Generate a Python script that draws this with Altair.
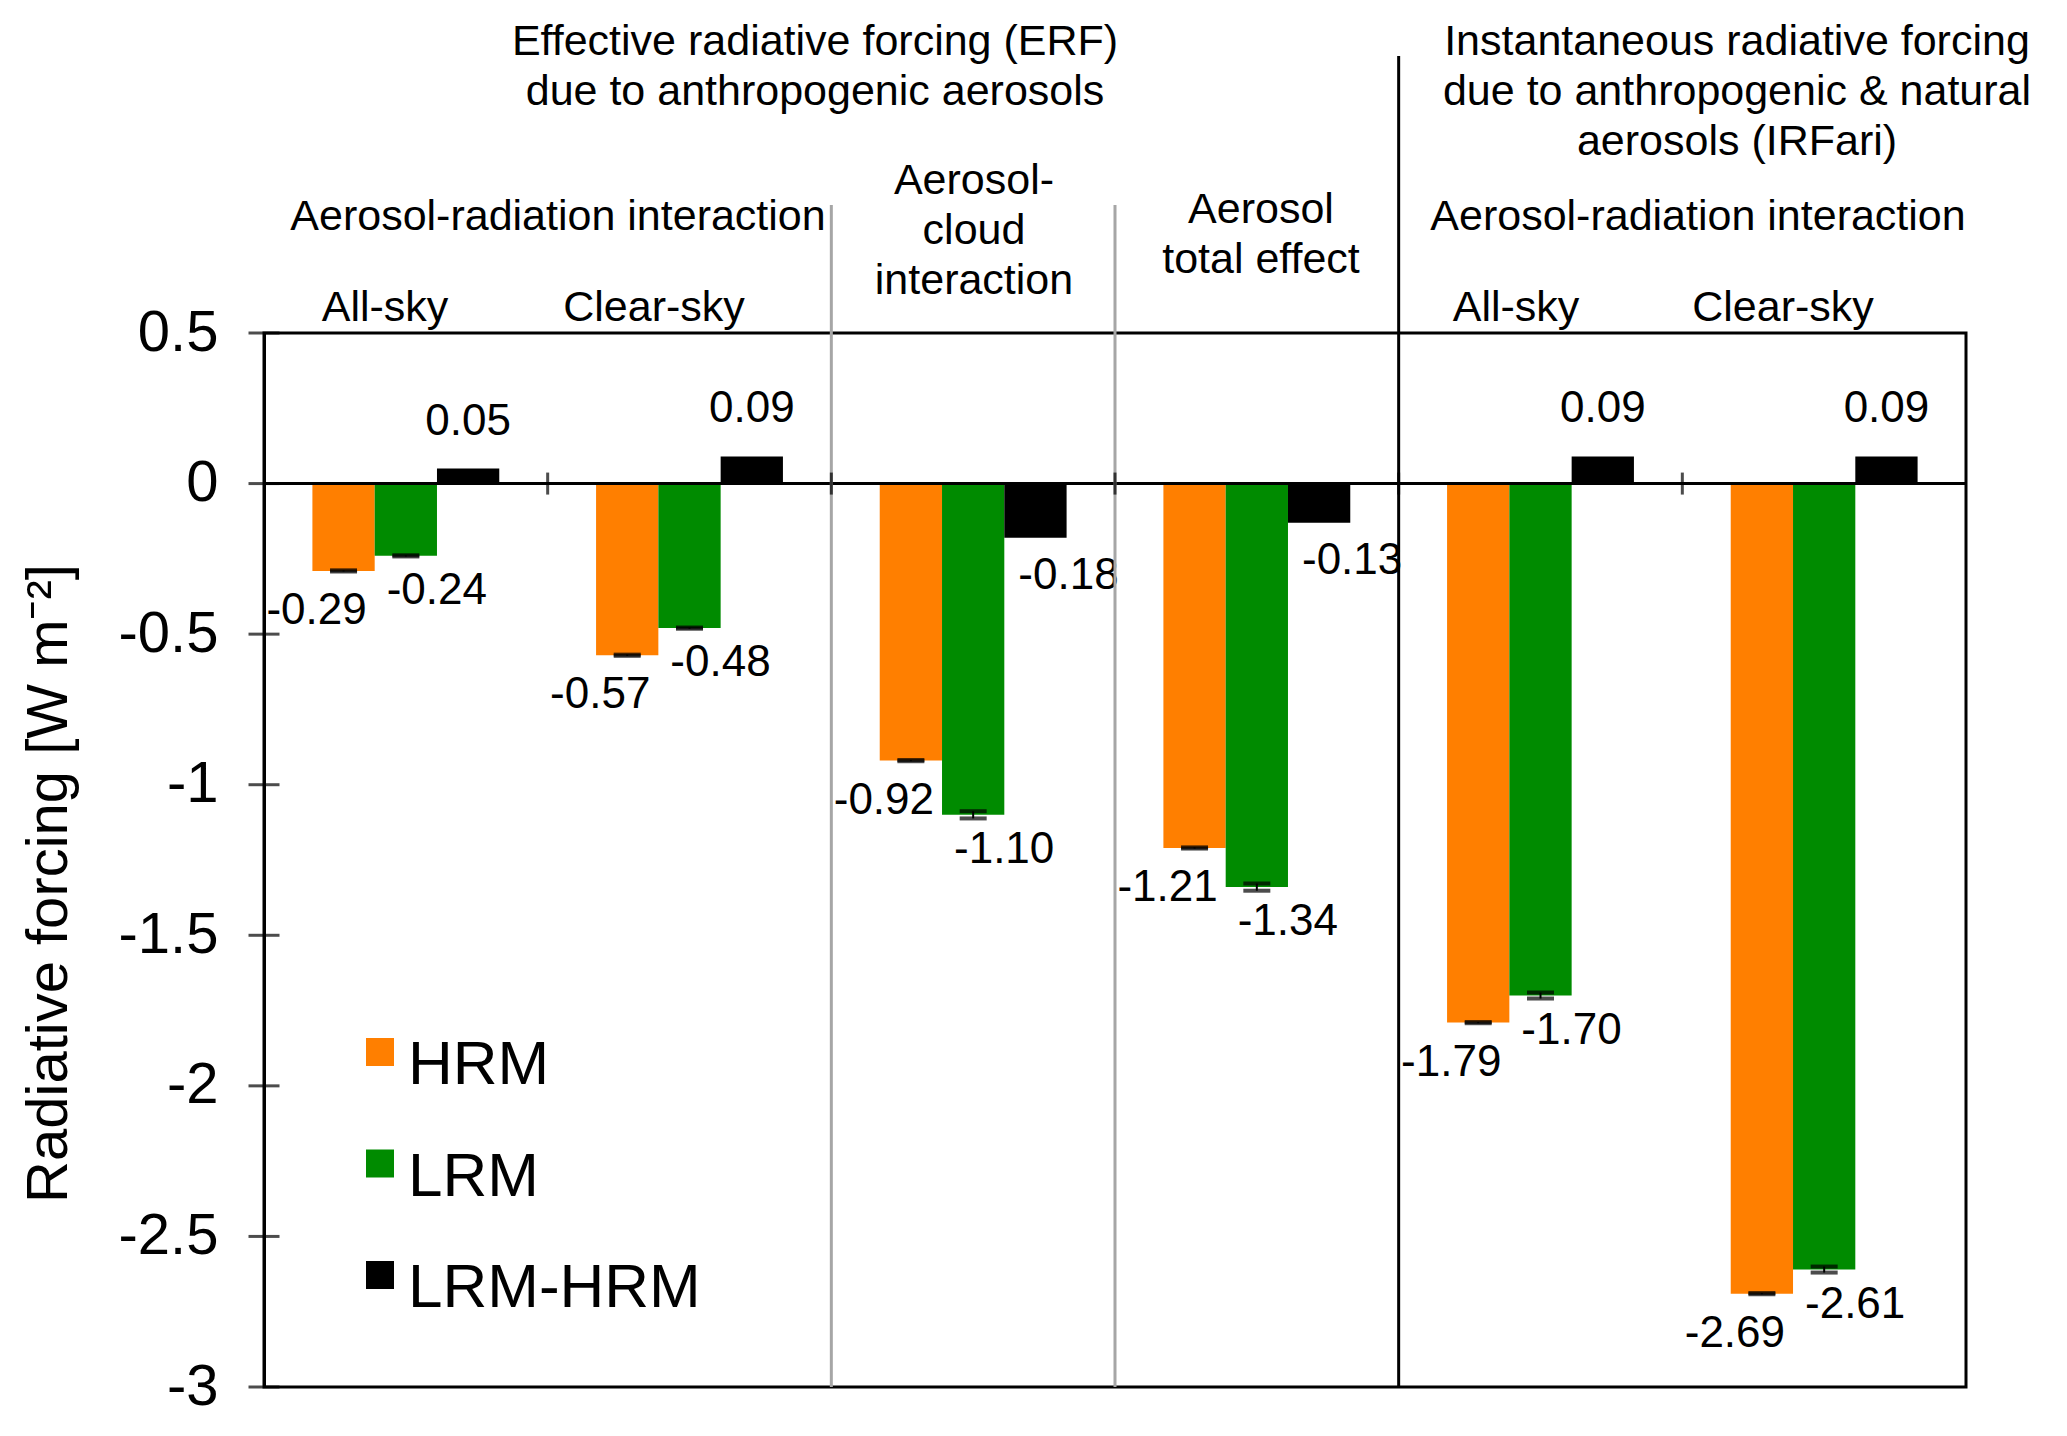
import altair as alt
import pandas as pd

# ---------------- data ----------------
groups = ["ERF ari all-sky", "ERF ari clear-sky", "ERF aci", "ERF total",
          "IRFari all-sky", "IRFari clear-sky"]
series = ["HRM", "LRM", "LRM-HRM"]
colors = ["#FF7F00", "#008B00", "#000000"]
hrm = [-0.29, -0.57, -0.92, -1.21, -1.79, -2.69]
lrm = [-0.24, -0.48, -1.10, -1.34, -1.70, -2.61]
diff = [0.05, 0.09, -0.18, -0.13, 0.09, 0.09]
hrm_err = [0.002, 0.002, 0.002, 0.002, 0.002, 0.002]
lrm_err = [0.002, 0.002, 0.012, 0.012, 0.010, 0.010]
y_ticks = [0.5, 0, -0.5, -1, -1.5, -2, -2.5, -3]

title_erf = "Effective radiative forcing (ERF)\ndue to anthropogenic aerosols"
title_irf = "Instantaneous radiative forcing\ndue to anthropogenic & natural\naerosols (IRFari)"
sub_ari = "Aerosol-radiation interaction"
sub_aci = "Aerosol-\ncloud\ninteraction"
sub_tot = "Aerosol\ntotal effect"
sky_all = "All-sky"
sky_clear = "Clear-sky"
y_title = "Radiative forcing [W m\u207b\u00b2]"

rows = []
for i, g in enumerate(groups):
    rows.append(dict(group=g, series="HRM", value=hrm[i], err=hrm_err[i]))
    rows.append(dict(group=g, series="LRM", value=lrm[i], err=lrm_err[i]))
    rows.append(dict(group=g, series="LRM-HRM", value=diff[i], err=None))
df = pd.DataFrame(rows)
df["label"] = df["value"].map(lambda v: f"{v:.2f}")
err_df = df.dropna(subset=["err"]).copy()
err_df["lo"] = err_df["value"] - err_df["err"]
err_df["hi"] = err_df["value"] + err_df["err"]

FONT = "Liberation Sans"
W, H = 1702, 1054

xscale = alt.Scale(domain=groups, paddingInner=0, paddingOuter=0)
X = alt.X("group:N", sort=groups, scale=xscale, axis=None)
XO = alt.XOffset("series:N", sort=series,
                 scale=alt.Scale(domain=series, paddingInner=0, paddingOuter=0.777))
yscale = alt.Scale(domain=[-3, 0.5], nice=False)
yaxis = alt.Axis(values=y_ticks, ticks=False, tickSize=0, grid=False,
                 domainColor="black", domainWidth=3,
                 labelFont=FONT, labelFontSize=58, labelColor="black",
                 labelPadding=46, format="~g",
                 labelExpr="replace(datum.label, '\u2212', '-')",
                 title=y_title, titleFont=FONT, titleFontSize=58,
                 titleFontWeight="normal", titleColor="black",
                 titleX=-215, titleY=550, titleBaseline="middle")


def Yf(field):
    return alt.Y(field, scale=yscale, axis=yaxis, title=y_title)


bars = alt.Chart(df).mark_bar().encode(
    x=X, xOffset=XO,
    y=Yf("value:Q"),
    y2=alt.datum(0),
    color=alt.Color("series:N", sort=series,
                    scale=alt.Scale(domain=series, range=colors),
                    legend=None),
)

zero_line = alt.Chart(pd.DataFrame({"value": [0]})).mark_rule(
    color="black", strokeWidth=3).encode(y=Yf("value:Q"))

stems = alt.Chart(err_df).mark_rule(color="black", strokeWidth=2).encode(
    x=X, xOffset=XO, y=Yf("lo:Q"), y2="hi:Q")
cap_lo = alt.Chart(err_df).mark_tick(color="black", thickness=4, size=27,
                                      orient="horizontal").encode(
    x=X, xOffset=XO, y=Yf("lo:Q"))
cap_hi = alt.Chart(err_df).mark_tick(color="black", thickness=4, size=27,
                                      orient="horizontal").encode(
    x=X, xOffset=XO, y=Yf("hi:Q"))


def value_labels(sel, dx, dy):
    return alt.Chart(sel).mark_text(font=FONT, fontSize=44, color="black",
                                    align="center", baseline="middle",
                                    dx=dx, dy=dy).encode(
        x=X, xOffset=XO, y=Yf("value:Q"), text="label:N")


lbl_h = value_labels(df[df.series == "HRM"], -27, 40)
lbl_l = value_labels(df[df.series == "LRM"], 31, 35)
lbl_dn = value_labels(df[(df.series == "LRM-HRM") & (df.value < 0)], 33, 38)
lbl_dp = value_labels(df[(df.series == "LRM-HRM") & (df.value >= 0)], 0, -47)

XB = alt.X("group:N", sort=groups, scale=xscale, axis=None, bandPosition=0)
gray_div = alt.Chart(pd.DataFrame({"group": [groups[2], groups[3]]})).mark_rule(
    color="#A6A6A6", strokeWidth=3).encode(x=XB, y=alt.value(-128), y2=alt.value(H))
black_div = alt.Chart(pd.DataFrame({"group": [groups[4]]})).mark_rule(
    color="black", strokeWidth=3).encode(x=XB, y=alt.value(-277), y2=alt.value(H))
zero_ticks = alt.Chart(pd.DataFrame({"group": groups[1:], "value": [0] * 5})).mark_tick(
    color="black", thickness=3, size=22, orient="vertical").encode(
    x=XB, y=Yf("value:Q"))
y_tick_marks = alt.Chart(pd.DataFrame({"value": y_ticks})).mark_tick(
    color="black", thickness=3, size=31, orient="horizontal").encode(
    x=alt.value(0), y=Yf("value:Q"))


def header(text, x, y):
    return alt.Chart(pd.DataFrame({"t": [text]})).mark_text(
        font=FONT, fontSize=43, color="black", align="center", baseline="top",
        lineBreak="\n", lineHeight=50).encode(
        x=alt.value(x), y=alt.value(y), text="t:N")


headers = [
    header(title_erf, 551, -312),
    header(title_irf, 1473, -312),
    header(sub_ari, 294, -137),
    header(sub_aci, 710, -173),
    header(sub_tot, 997, -144),
    header(sub_ari, 1434, -137),
    header(sky_all, 121, -46),
    header(sky_clear, 390, -46),
    header(sky_all, 1252, -46),
    header(sky_clear, 1519, -46),
]

# manual legend (square swatch + label)
legend_layers = []
for i, (s, c) in enumerate(zip(series, colors)):
    legend_layers.append(
        alt.Chart(pd.DataFrame({"s": [s]})).mark_square(
            size=784, color=c, opacity=1, filled=True).encode(
            x=alt.value(116), y=alt.value(719 + 111.5 * i)))
    legend_layers.append(
        alt.Chart(pd.DataFrame({"s": [s]})).mark_text(
            font=FONT, fontSize=62, color="black", align="left",
            baseline="alphabetic").encode(
            x=alt.value(144), y=alt.value(751 + 111.5 * i), text="s:N"))

chart = alt.layer(
    bars, zero_line, stems, cap_lo, cap_hi,
    lbl_h, lbl_l, lbl_dn, lbl_dp,
    gray_div, black_div, zero_ticks, y_tick_marks, *headers, *legend_layers
).properties(
    width=W, height=H,
    autosize=alt.AutoSizeParams(type="none"),
    padding={"left": 256, "top": 325, "right": 93, "bottom": 41},
    background="white",
).configure(font=FONT).configure_view(stroke="black", strokeWidth=3)

chart.save("out.html", embed_options={"renderer": "svg", "actions": False})
